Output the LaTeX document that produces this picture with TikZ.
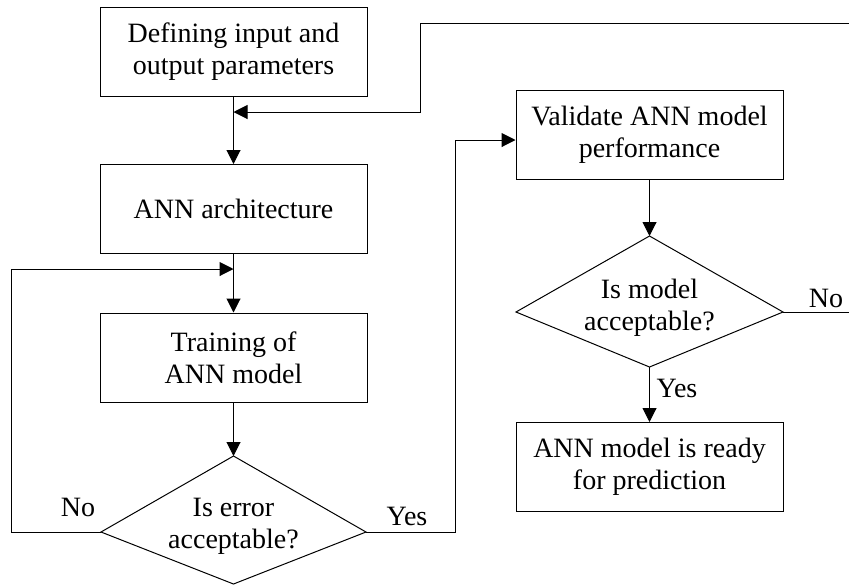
\documentclass[tikz,border=0pt]{standalone}
\usepackage{fontspec}
\setmainfont{Liberation Serif}
\usetikzlibrary{arrows.meta}
\usetikzlibrary{positioning}

\begin{document}
\begin{tikzpicture}[x=0.5pt, y=-0.5pt, line width=0.5pt,
		>={Triangle[length=7pt, width=7pt]},
		box/.style={draw, minimum width=133.5pt, minimum height=44.5pt, inner sep=0pt, align=center, font=\fontsize{14}{16}\selectfont},
		txt/.style={align=center, inner sep=0pt, font=\fontsize{14}{16}\selectfont}]
			\useasboundingbox (0, 0) rectangle (849, 585);
			% left column
			\node[box] (define) at (233.5, 51.5) {Defining input and\\output parameters};
			\node[box] (arch) at (233.5, 209) {ANN architecture};
			\node[box] (train) at (233.5, 357.5) {Training of\\ANN model};
			\coordinate (errtop) at (233.5, 456);
			\coordinate (errright) at (366, 532);
			\coordinate (errbot) at (233.5, 584);
			\coordinate (errleft) at (101, 532);
			\draw (errtop) -- (errright) -- (errbot) -- (errleft) -- cycle;
			\node[txt] (err) at (233.5, 526) {Is error\\acceptable?};
			% right column
			\node[box] (valid) at (649.5, 134.5) {Validate ANN model\\performance};
			\coordinate (modtop) at (649.5, 236);
			\coordinate (modright) at (783, 312);
			\coordinate (modbot) at (649.5, 367);
			\coordinate (modleft) at (516, 312);
			\draw (modtop) -- (modright) -- (modbot) -- (modleft) -- cycle;
			\node[txt] (mod) at (649.5, 308) {Is model\\acceptable?};
			\node[box] (ready) at (649.5, 467) {ANN model is ready\\for prediction};
			% connectors
			\coordinate (loopend) at (849, 23);
			\coordinate (loopturn) at (420, 112);
			\coordinate (noturn) at (11, 269);
			\coordinate (yesturn) at (455, 140);
			\coordinate (noend) at (849, 312);
			\draw[->] (define) -- (arch);
			\draw[->] (loopend) -| (loopturn) -- (define.south |- loopturn);
			\draw[->] (arch) -- (train);
			\draw[->] (errleft) -| (noturn) -- (arch.south |- noturn);
			\draw[->] (train) -- (errtop);
			\draw[->] (errright) -| (yesturn) -- (valid.west |- yesturn);
			\draw[->] (valid) -- (modtop);
			\draw (modright) -- (noend);
			\draw[->] (modbot) -- (ready);
			% labels
			\node[txt] (nolabel) at (78, 507) {No};
			\node[txt] (yeslabel) at (407, 516) {Yes};
			\node[txt] (noright) at (826, 298) {No};
			\node[txt] (yesdown) at (677, 388) {Yes};
		\end{tikzpicture}
\end{document}
